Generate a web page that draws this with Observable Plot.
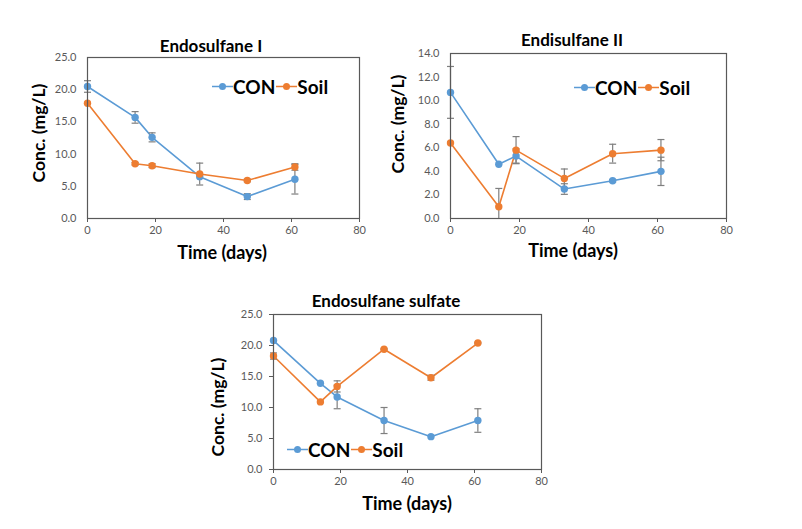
<!DOCTYPE html>
<html>
<head>
<meta charset="utf-8">
<script src="https://cdn.jsdelivr.net/npm/d3@7"></script>
<script src="https://cdn.jsdelivr.net/npm/@observablehq/plot@0.6"></script>
<style>
  html, body { margin: 0; padding: 0; background: #fff; }
  #root { position: relative; width: 802px; height: 529px; overflow: hidden; font-family: Lato, "Open Sans", sans-serif; }
  .abs { position: absolute; }
  .title { font-weight: bold; font-size: 17px; color: #000; white-space: nowrap; transform: translate(-50%, -50%); }
  .xlab { font-weight: bold; font-size: 18px; color: #000; white-space: nowrap; transform: translate(-50%, -50%); }
  .ylab { font-weight: bold; font-size: 17.5px; color: #000; white-space: nowrap; transform: translate(-50%, -50%) rotate(-90deg); }
  .legend { display: flex; align-items: center; font-weight: bold; font-size: 19px; transform: translateY(-50%); white-space: nowrap; }
  .legend svg { display: block; }
  .legend span { margin-right: 1px; margin-left: 0px; }
</style>
</head>
<body>
<div id="root"></div>
<script>
// ---- data ----
const days = [0, 14, 19, 33, 47, 61];
const seriesNames = ["CON", "Soil"];
const seriesColors = ["#5B9BD5", "#ED7D31"];
const xTicks = [0, 20, 40, 60, 80];

const titles = ["Endosulfane I", "Endisulfane II", "Endosulfane sulfate"];
const xLabel = "Time (days)";
const yLabel = "Conc. (mg/L)";

// Endosulfane I
const e1Con = [20.5, 15.7, 12.6, 6.5, 3.4, 6.1];
const e1ConErr = [0.9, 0.9, 0.7, 0, 0.45, 2.3];
const e1Soil = [17.9, 8.5, 8.2, 6.9, 5.9, 8.0];
const e1SoilErr = [0, 0.2, 0.3, 1.7, 0.2, 0.5];
const e1YTicks = [0, 5, 10, 15, 20, 25];

// Endisulfane II
const e2Con = [10.7, 4.6, 5.3, 2.5, 3.2, 4.0];
const e2ConErr = [2.2, 0, 0.6, 0.45, 0.1, 1.2];
const e2Soil = [6.4, 1.0, 5.8, 3.4, 5.5, 5.8];
const e2SoilErr = [0, 1.55, 1.15, 0.8, 0.8, 0.9];
const e2YTicks = [0, 2, 4, 6, 8, 10, 12, 14];

// Endosulfane sulfate
const e3Con = [20.8, 13.9, 11.7, 7.9, 5.3, 7.9];
const e3ConErr = [0, 0, 1.9, 2.1, 0, 1.9];
const e3Soil = [18.3, 10.9, 13.4, 19.4, 14.8, 20.4];
const e3SoilErr = [0.5, 0, 0.9, 0.1, 0.4, 0.1];
const e3YTicks = [0, 5, 10, 15, 20, 25];

// ---- helpers ----
function rows(con, conErr, soil, soilErr) {
  const out = [];
  days.forEach((d, i) => out.push({day: d, s: seriesNames[0], v: con[i], e: conErr[i]}));
  days.forEach((d, i) => out.push({day: d, s: seriesNames[1], v: soil[i], e: soilErr[i]}));
  return out;
}
const capSymbol = { draw(ctx, size) { ctx.moveTo(-3.5, 0); ctx.lineTo(3.5, 0); } };
const root = document.getElementById("root");

function panel(cfg) {
  const data = rows(cfg.con, cfg.conErr, cfg.soil, cfg.soilErr);
  const err = data.filter(d => d.e > 0);
  const svg = Plot.plot({
    width: cfg.w, height: cfg.h,
    marginLeft: cfg.ml, marginRight: cfg.mr, marginTop: cfg.mt, marginBottom: cfg.mb,
    style: { fontFamily: "Lato, 'Open Sans', sans-serif", fontSize: "11px", color: "#595959", background: "transparent" },
    x: { domain: [0, 80], ticks: xTicks, label: null, tickSize: 4, tickPadding: 4 },
    y: { domain: [cfg.yTicks[0], cfg.yTicks[cfg.yTicks.length - 1]], ticks: cfg.yTicks, label: null,
         tickFormat: d3.format(".1f"), tickSize: cfg.yTickSize, tickPadding: cfg.yTickPad },
    color: { domain: seriesNames, range: seriesColors },
    marks: [
      Plot.axisX({ ticks: xTicks, tickSize: 4, tickPadding: 4, stroke: "#595959", fill: "#595959" }),
      Plot.axisY({ ticks: cfg.yTicks, tickFormat: d3.format(".1f"), tickSize: cfg.yTickSize, tickPadding: cfg.yTickPad, stroke: "#595959", fill: "#595959" }),
      Plot.line(data, { x: "day", y: "v", z: "s", stroke: "s", strokeWidth: 1.6 }),
      Plot.ruleX(err, { x: "day", y1: d => Math.max(cfg.yTicks[0], d.v - d.e), y2: d => d.v + d.e, stroke: "#7F7F7F", strokeWidth: 1.2 }),
      Plot.dot(err, { x: "day", y: d => d.v + d.e, symbol: capSymbol, stroke: "#7F7F7F", fill: "none", strokeWidth: 1.2 }),
      Plot.dot(err.filter(d => d.v - d.e > cfg.yTicks[0]), { x: "day", y: d => d.v - d.e, symbol: capSymbol, stroke: "#7F7F7F", fill: "none", strokeWidth: 1.2 }),
      Plot.dot(data, { x: "day", y: "v", fill: "s", r: 3.7 }),
      Plot.frame({ stroke: "#595959", strokeWidth: 1.2 })
    ]
  });
  svg.classList.add("abs");
  svg.style.left = cfg.left + "px";
  svg.style.top = cfg.top + "px";
  root.appendChild(svg);

  const mk = (cls, txt, x, y) => {
    const d = document.createElement("div");
    d.className = "abs " + cls;
    d.textContent = txt;
    d.style.left = x + "px"; d.style.top = y + "px";
    root.appendChild(d);
  };
  mk("title", cfg.title, cfg.titlePos[0], cfg.titlePos[1]);
  mk("xlab", xLabel, cfg.xlabPos[0], cfg.xlabPos[1]);
  mk("ylab", yLabel, cfg.ylabPos[0], cfg.ylabPos[1]);

  const lg = document.createElement("div");
  lg.className = "abs legend";
  lg.style.left = cfg.legendPos[0] + "px"; lg.style.top = cfg.legendPos[1] + "px";
  lg.innerHTML = seriesNames.map((n, i) =>
    `<svg width="21" height="10"><line x1="0" y1="5" x2="21" y2="5" stroke="${seriesColors[i]}" stroke-width="1.6"/><circle cx="10.5" cy="5" r="3.5" fill="${seriesColors[i]}"/></svg><span>${n}</span>`
  ).join("");
  root.appendChild(lg);
}

panel({ title: titles[0], con: e1Con, conErr: e1ConErr, soil: e1Soil, soilErr: e1SoilErr, yTicks: e1YTicks,
  left: 0, top: 0, w: 400, h: 260, ml: 87, mr: 41, mt: 57, mb: 42, yTickSize: 0, yTickPad: 11,
  titlePos: [211, 45], xlabPos: [222, 252], ylabPos: [38, 133], legendPos: [212, 86] });

panel({ title: titles[1], con: e2Con, conErr: e2ConErr, soil: e2Soil, soilErr: e2SoilErr, yTicks: e2YTicks,
  left: 400, top: 0, w: 360, h: 260, ml: 50, mr: 34, mt: 53, mb: 42, yTickSize: 0, yTickPad: 11,
  titlePos: [572, 39], xlabPos: [573, 250], ylabPos: [397, 124], legendPos: [574, 87] });

panel({ title: titles[2], con: e3Con, conErr: e3ConErr, soil: e3Soil, soilErr: e3SoilErr, yTicks: e3YTicks,
  left: 200, top: 270, w: 380, h: 250, ml: 73, mr: 39, mt: 44, mb: 51, yTickSize: 4, yTickPad: 7,
  titlePos: [386, 300], xlabPos: [407, 503], ylabPos: [217, 407], legendPos: [287, 449] });
</script>
</body>
</html>
